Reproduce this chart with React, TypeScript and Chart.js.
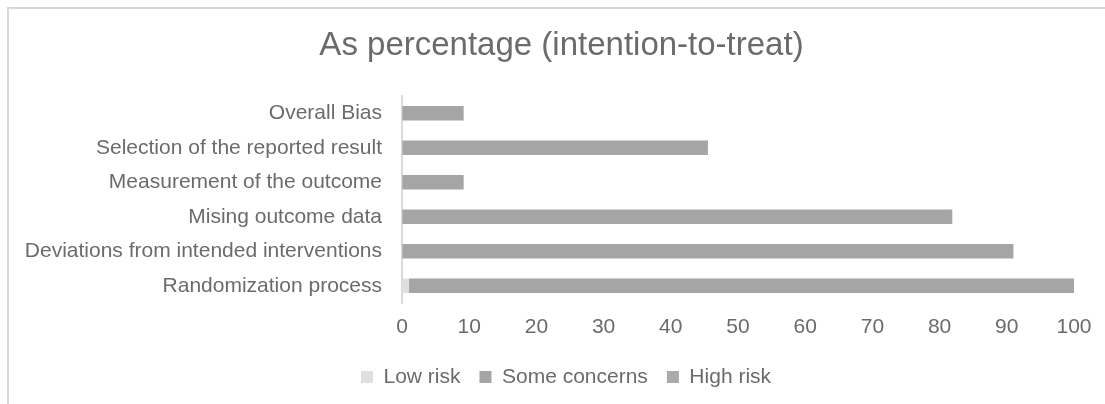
import React, { useEffect, useRef } from "react";
import { Chart, registerables } from "chart.js";

Chart.register(...registerables);

// Risk-of-bias domains, top to bottom
const domains = [
  "Overall Bias",
  "Selection of the reported result",
  "Measurement of the outcome",
  "Mising outcome data",
  "Deviations from intended interventions",
  "Randomization process",
];

// Percentage of studies per judgement
const lowRisk = [0, 0, 0, 0, 0, 1];
const someConcerns = [9.09, 45.45, 9.09, 81.82, 90.91, 99];
const highRisk = [0, 0, 0, 0, 0, 0];

const xTicks = [0, 10, 20, 30, 40, 50, 60, 70, 80, 90, 100];

const FONT = "'Liberation Sans', Arial, Helvetica, sans-serif";
const TEXT = "#6b6b6b";

// Title and legend are centred on the whole frame, not on the plot area
const shiftBlocks = {
  id: "shiftBlocks",
  afterLayout(chart: any) {
    const t = chart.titleBlock;
    if (t) {
      t.left += 15.5;
      t.right += 15.5;
    }
    const l = chart.legend;
    if (l) {
      l.left += 20;
      l.right += 20;
    }
  },
};

export default function App() {
  const canvasRef = useRef<HTMLCanvasElement | null>(null);

  useEffect(() => {
    if (!canvasRef.current) return;
    const chart = new Chart(canvasRef.current, {
      type: "bar",
      data: {
        labels: domains,
        datasets: [
          { label: "Low risk", data: lowRisk, backgroundColor: "#dfdfdf", barThickness: 14 },
          { label: "Some concerns", data: someConcerns, backgroundColor: "#a5a5a5", barThickness: 14 },
          { label: "High risk", data: highRisk, backgroundColor: "#aaaaae", barThickness: 14 },
        ],
      },
      plugins: [shiftBlocks],
      options: {
        indexAxis: "y",
        responsive: false,
        animation: false,
        layout: { padding: { left: 18, right: 31, top: 0, bottom: 6.5 } },
        plugins: {
          title: {
            display: true,
            text: "As percentage (intention-to-treat)",
            color: TEXT,
            font: { family: FONT, size: 33, weight: "normal" },
            padding: { top: 26, bottom: 30.4 },
          },
          legend: {
            position: "bottom",
            labels: {
              color: TEXT,
              font: { family: FONT, size: 21 },
              boxWidth: 12,
              boxHeight: 12,
              padding: 19,
            },
          },
          tooltip: { enabled: false },
        },
        scales: {
          x: {
            stacked: true,
            min: 0,
            max: 100,
            afterBuildTicks: (scale: any) => {
              scale.ticks = xTicks.map((v) => ({ value: v }));
            },
            afterFit: (scale: any) => {
              scale.height = 44.5;
            },
            grid: { display: false, drawTicks: false },
            border: { display: false },
            ticks: {
              color: TEXT,
              font: { family: FONT, size: 21 },
              padding: 12,
              maxRotation: 0,
            },
          },
          y: {
            stacked: true,
            afterFit: (scale: any) => {
              scale.width = 384;
            },
            grid: { display: false, drawTicks: false },
            border: { display: true, color: "#d9d9d9", width: 2 },
            ticks: {
              color: TEXT,
              font: { family: FONT, size: 21 },
              padding: 20,
            },
          },
        },
      },
    });
    return () => chart.destroy();
  }, []);

  return (
    <div
      style={{
        position: "absolute",
        left: 0,
        top: 0,
        width: 1105,
        height: 404,
        overflow: "hidden",
        background: "#ffffff",
      }}
    >
      <div
        style={{
          position: "absolute",
          left: 7,
          top: 7,
          width: 1105,
          height: 404,
          borderTop: "2px solid #d9d9d9",
          borderLeft: "2px solid #d9d9d9",
        }}
      />
      <canvas
        ref={canvasRef}
        width={1105}
        height={404}
        style={{ position: "absolute", left: 0, top: 0, width: 1105, height: 404 }}
      />
    </div>
  );
}
